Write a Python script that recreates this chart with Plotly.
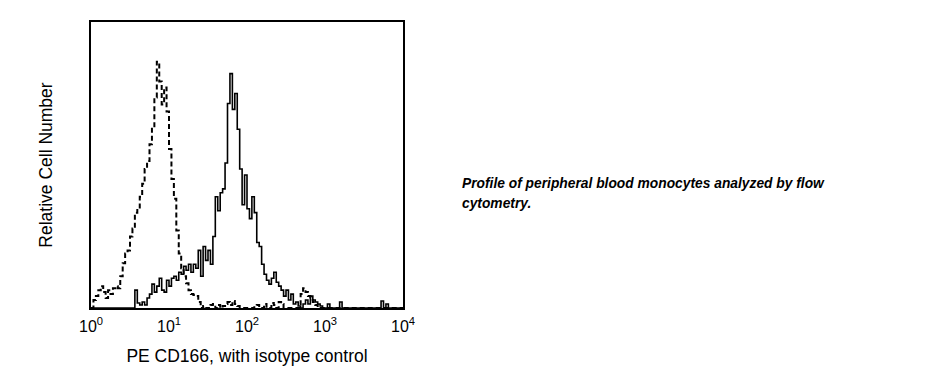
import plotly.graph_objects as go

# channel bins: 32 bins per decade, 4 decades (10^0 .. 10^4)
bins_per_decade = 32
n_bins = 128

isotype_counts = [
    0, 8, 12, 18, 22, 16, 10, 18, 14, 20,
    22, 20, 32, 45, 55, 58, 72, 80, 96, 100,
    112, 125, 140, 148, 165, 182, 212, 248, 228, 205,
    222, 198, 160, 130, 110, 78, 55, 40, 32, 25,
    18, 14, 13, 12, 6, 0, 2, 0, 0, 3,
    4, 0, 3, 0, 2, 4, 6, 3, 7, 4,
    2, 0, 0, 0, 0, 0, 0, 2, 3, 0,
    0, 4, 0, 0, 5, 3, 0, 6, 4, 0,
    0, 0, 0, 0, 0, 0, 14, 20, 16, 12,
    8, 6, 3, 0, 0, 0, 0, 0, 0, 0,
    0, 0, 0, 0, 0, 0, 0, 0, 0, 0,
    0, 0, 0, 0, 0, 0, 0, 0, 0, 0,
    0, 0, 0, 0, 0, 0, 0, 0,
]

cd166_counts = [
    0, 0, 0, 0, 0, 0, 0, 0, 0, 0,
    0, 0, 0, 0, 0, 0, 0, 0, 18, 5,
    3, 6, 3, 10, 14, 24, 16, 22, 30, 18,
    16, 28, 22, 30, 32, 28, 36, 34, 42, 38,
    44, 36, 44, 40, 58, 32, 62, 48, 58, 44,
    72, 112, 98, 116, 120, 146, 206, 236, 200, 216,
    180, 140, 104, 134, 100, 90, 112, 96, 66, 62,
    44, 34, 28, 24, 30, 36, 26, 22, 18, 12,
    18, 8, 14, 4, 6, 2, 0, 4, 8, 4,
    12, 8, 6, 4, 2, 0, 0, 4, 0, 0,
    0, 0, 6, 0, 0, 0, 0, 0, 0, 0,
    0, 0, 0, 0, 0, 0, 0, 0, 0, 7,
    0, 4, 0, 0, 0, 0, 0, 0,
]

tick_values = [1, 10, 100, 1000, 10000]
tick_labels = ["10<sup>0</sup>", "10<sup>1</sup>", "10<sup>2</sup>",
               "10<sup>3</sup>", "10<sup>4</sup>"]

x_title = "PE CD166, with isotype control"
y_title = "Relative Cell Number"
caption_lines = ["Profile of peripheral blood monocytes analyzed by flow",
                 "cytometry."]

fluor = [10 ** (i / bins_per_decade) for i in range(n_bins + 1)]
iso_y = isotype_counts + [isotype_counts[-1]]
cd_y = cd166_counts + [cd166_counts[-1]]

# page body has an 8px margin; figure coordinates are offset accordingly
W, H = 931, 380
L, T, R, B = 83, 12, 536, 80
pw, ph = W - L - R, H - T - B

fig = go.Figure()
fig.add_trace(go.Scatter(
    x=fluor, y=iso_y, mode="lines", line_shape="hv",
    line=dict(color="black", width=2, dash="5px,3px"),
    name="isotype", showlegend=False, hoverinfo="skip"))
fig.add_trace(go.Scatter(
    x=fluor, y=cd_y, mode="lines", line_shape="hv",
    line=dict(color="black", width=1.6),
    name="CD166", showlegend=False, hoverinfo="skip"))

annotations = []
for k, line in enumerate(caption_lines):
    cy = 183 - 8 + 20 * k  # centre y in figure px
    annotations.append(dict(
        text="<b><i>" + line + "</i></b>", xref="paper", yref="paper",
        x=(452 - L) / pw, y=(H - B - cy) / ph,
        xanchor="left", yanchor="middle", align="left", showarrow=False,
        font=dict(size=13.8, family="Liberation Sans, Arial, sans-serif")))

fig.update_layout(
    width=W, height=H,
    margin=dict(l=L, r=R, t=T, b=B),
    paper_bgcolor="white", plot_bgcolor="white",
    font=dict(family="Liberation Sans, Arial, sans-serif", color="black"),
    xaxis=dict(type="log", range=[0, 4], tickvals=tick_values, ticktext=tick_labels,
               showgrid=False, zeroline=False, showline=True, linecolor="black",
               linewidth=2, mirror=True, ticks="", tickfont=dict(size=16),
               ticklabelstandoff=3,
               title=dict(text=x_title, font=dict(size=17.5), standoff=16)),
    yaxis=dict(range=[0, 288], showticklabels=False, showgrid=False, zeroline=False,
               showline=True, linecolor="black", linewidth=2, mirror=True, ticks="",
               title=dict(text=y_title, font=dict(size=17.5), standoff=32)),
    annotations=annotations,
)

fig.write_html("out.html")
